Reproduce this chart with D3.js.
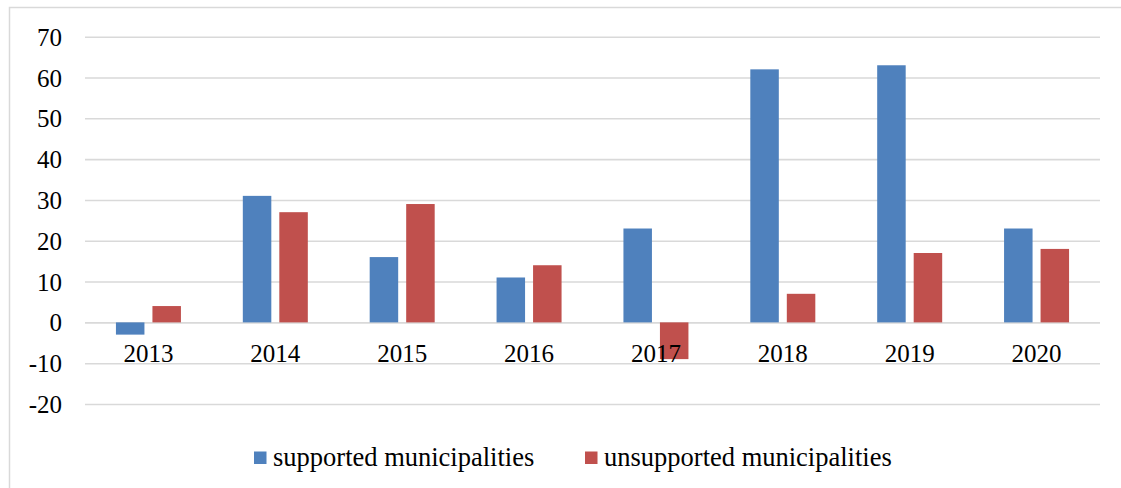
<!DOCTYPE html>
<html>
<head>
<meta charset="utf-8">
<script src="https://cdn.jsdelivr.net/npm/d3@7"></script>
<style>
  html, body { margin: 0; padding: 0; background: #fff; }
  svg { display: block; }
</style>
</head>
<body>
<svg id="chart" width="1121" height="488"></svg>
<script>
// Year-over-year change, by municipality group
const years = ["2013", "2014", "2015", "2016", "2017", "2018", "2019", "2020"];
const supported = [-3, 31, 16, 11, 23, 62, 63, 23];
const unsupported = [4, 27, 29, 14, -9, 7, 17, 18];
const seriesNames = ["supported municipalities", "unsupported municipalities"];
const seriesColors = ["#4F81BD", "#C0504D"];
const yTicks = [-20, -10, 0, 10, 20, 30, 40, 50, 60, 70];

const svg = d3.select("#chart");
const W = 1121, H = 488;
const serif = '"Liberation Serif", "Times New Roman", serif';

// outer chart frame (runs past the right and bottom edges)
svg.append("rect")
  .attr("x", 9.5).attr("y", 7.5)
  .attr("width", W + 20).attr("height", H + 20)
  .attr("fill", "#fff")
  .attr("stroke", "#d9d9d9").attr("stroke-width", 1.5);

const plot = { left: 85, right: 1100, top: 36.7, bottom: 404 };

const x = d3.scaleBand()
  .domain(years)
  .range([plot.left, plot.right])
  .paddingInner(0).paddingOuter(0);

const y = d3.scaleLinear()
  .domain([-20, 70])
  .range([plot.bottom, plot.top]);

// horizontal gridlines with value labels
const yAxis = d3.axisLeft(y)
  .tickValues(yTicks)
  .tickSize(-(plot.right - plot.left))
  .tickPadding(23)
  .tickFormat(d => String(d));

const gy = svg.append("g")
  .attr("transform", `translate(${plot.left},0)`)
  .call(yAxis);
gy.select(".domain").remove();
gy.selectAll(".tick line")
  .attr("stroke", "#d9d9d9").attr("stroke-width", 1.6);
gy.selectAll(".tick text")
  .style("font-family", serif)
  .style("font-size", "25px")
  .style("fill", "#000")
  .attr("dy", "0.34em");

// grouped bars
const barW = 28.5, barGap = 8;
const series = [supported, unsupported];
series.forEach((vals, si) => {
  svg.append("g").selectAll("rect")
    .data(vals)
    .join("rect")
    .attr("x", (d, i) => {
      const c = x(years[i]) + x.bandwidth() / 2;
      return si === 0 ? c - barGap / 2 - barW : c + barGap / 2;
    })
    .attr("y", d => y(Math.max(0, d)))
    .attr("width", barW)
    .attr("height", d => Math.abs(y(d) - y(0)))
    .attr("fill", seriesColors[si]);
});

// category labels sitting just under the zero line
svg.append("g").selectAll("text")
  .data(years)
  .join("text")
  .attr("x", d => x(d) + x.bandwidth() / 2)
  .attr("y", 362)
  .attr("text-anchor", "middle")
  .style("font-family", serif)
  .style("font-size", "25px")
  .style("fill", "#000")
  .text(d => d);

// legend
const legendX = [254, 585];
const legend = svg.append("g");
seriesNames.forEach((name, i) => {
  legend.append("rect")
    .attr("x", legendX[i]).attr("y", 451.5)
    .attr("width", 12.5).attr("height", 12.5)
    .attr("fill", seriesColors[i]);
  legend.append("text")
    .attr("x", legendX[i] + 19)
    .attr("y", 466)
    .style("font-family", serif)
    .style("font-size", "26.5px")
    .style("fill", "#000")
    .text(name);
});
</script>
</body>
</html>
